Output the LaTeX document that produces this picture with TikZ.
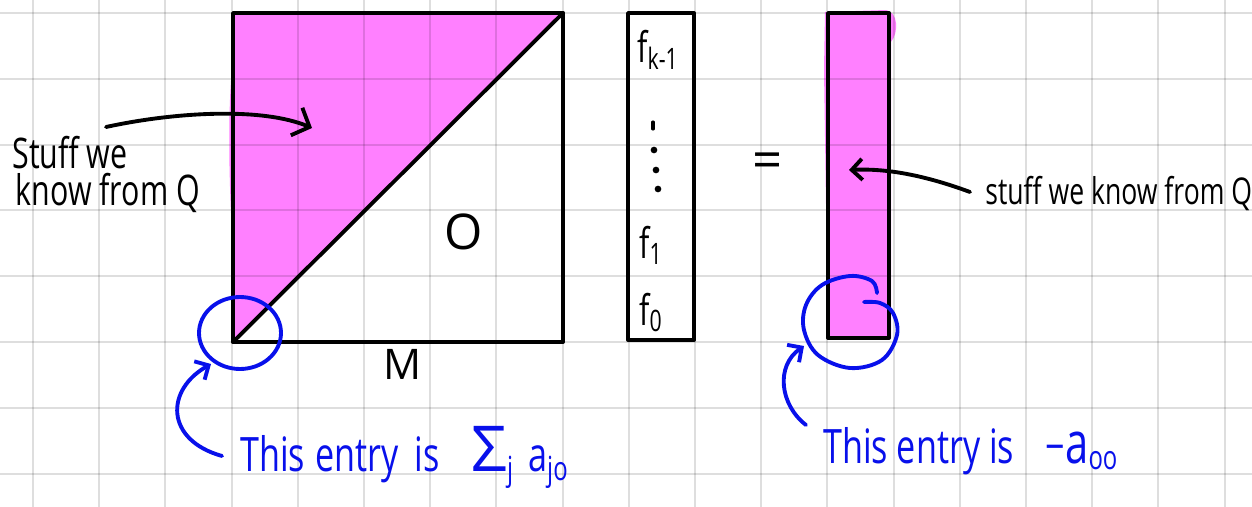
\documentclass[tikz,border=0pt]{standalone}
\usepackage{fontspec}
\newfontfamily\hand[FakeStretch=0.72]{Open Sans}
\newfontfamily\handw{Open Sans}
\usetikzlibrary{arrows.meta}
\definecolor{mag}{RGB}{255,128,255}
\definecolor{pen}{RGB}{8,16,235}
\begin{document}
\begin{tikzpicture}[x=0.02cm,y=-0.02cm,
  ink/.style={line width=2.2pt, line cap=round, line join=round},
  blueink/.style={ink, draw=pen},
  barbL/.style={-{Straight Barb[length=8pt,width=17pt]}},
  barbS/.style={-{Straight Barb[length=6pt,width=12pt]}},
  blk/.style={font=\hand\fontsize{24}{28}\selectfont, inner sep=0pt},
  wide/.style={font=\handw\fontsize{24}{28}\selectfont, inner sep=0pt},
  bluetxt/.style={font=\hand\fontsize{27}{30}\selectfont, text=pen, inner sep=0pt}]
\useasboundingbox (0,0) rectangle (1252,507);
\fill[white] (0,0) rectangle (1252,507);
% magenta fills
\fill[mag] (233,13) -- (563,13) -- (233,342) -- cycle;
\fill[mag] (233,60) .. controls (228,100) and (228,170) .. (233,250) -- cycle;
\fill[mag] (825,12) -- (886,10) .. controls (898,12) and (899,32) .. (891,42) -- (891,338) -- (828,338) -- (824,70) -- cycle;
% grid (multiply-like)
\foreach \i in {0,...,18}
  \draw[black, opacity=0.13, line width=1.1pt] ({33+66.2*\i},0) -- ({33+66.2*\i},507);
\foreach \j in {0,...,7}
  \draw[black, opacity=0.13, line width=1.1pt] (0,{13+65.8*\j}) -- (1252,{13+65.8*\j});
% square matrix
\coordinate (sqTL) at (233,13);
\coordinate (sqBR) at (563,342);
\coordinate (sqBL) at (233,342);
\coordinate (sqTR) at (563,13);
\draw[ink] (sqTL) rectangle (sqBR);
\draw[ink] (sqBL) -- (sqTR);
% vector f
\coordinate (vTL) at (628,13);
\coordinate (vBR) at (694,340);
\draw[ink] (vTL) rectangle (vBR);
% result column
\coordinate (cTL) at (828,13);
\coordinate (cBR) at (889,338);
\draw[ink] (cTL) rectangle (cBR);
% vertical dots
\draw[ink, line width=1.8pt] (653,122) -- (653,129);
\fill (654,150) circle[radius=1.9pt];
\fill (656,170) circle[radius=1.9pt];
\fill (658,189) circle[radius=1.9pt];
% texts
\node[blk, anchor=base west] (fk) at (637,62) {f\textsubscript{k-1}};
\node[blk, anchor=base west] (f1) at (639,258) {f\textsubscript{1}};
\node[blk, anchor=base west] (f0) at (639,325) {f\textsubscript{0}};
\node[wide, font=\handw\fontsize{28}{30}\selectfont] (zero) at (464,232) {O};
\node[wide] (M) at (403,364) {M};
\node[wide, font=\handw\fontsize{30}{30}\selectfont] (eq) at (768,166) {=};
\node[blk, font=\hand\fontsize{24}{21}\selectfont, anchor=north west, align=left] (lt) at (12,136) {Stuff we\\\hspace*{2pt}know from Q};
\node[blk, font=\hand\fontsize{21}{24}\selectfont, anchor=base west] (rt) at (985,204) {stuff we know from Q};
\node[bluetxt, anchor=base west] (bt1) at (240,471) {This\hspace{6pt}entry\hspace{9pt}is\hspace{18pt}{\handw\fontsize{36}{36}\selectfont Σ}\textsubscript{j}\hspace{8pt}a\textsubscript{jo}};
\node[bluetxt, anchor=base west] (bt2) at (823,463) {This entry is\hspace{18pt}−{\fontsize{33}{33}\selectfont a}\textsubscript{oo}};
% black arrows
\coordinate (la0) at (106,127);
\coordinate (la1) at (312,128);
\draw[ink, barbL] (la0) .. controls (175,112) and (262,107) .. (la1);
\coordinate (ra0) at (970,192);
\coordinate (ra1) at (849,170);
\draw[ink, barbS] (ra0) .. controls (932,178) and (892,168) .. (ra1);
% blue circles
\draw[blueink] (240,333) ellipse [x radius=0.82cm, y radius=0.72cm];
\draw[blueink] plot[smooth, tension=0.6] coordinates {(877,293) (872,281) (850,276) (822,285) (806,305) (804,330) (818,355) (850,368) (882,360) (897,335) (893,313) (880,303) (864,302)};
% blue arrows
\coordinate (lb0) at (222,456);
\coordinate (lb1) at (211,364);
\draw[blueink, barbS] (lb0) .. controls (165,440) and (165,390) .. (lb1);
\coordinate (rb0) at (806,425);
\coordinate (rb1) at (804,346);
\draw[blueink, barbS] (rb0) .. controls (780,405) and (775,366) .. (rb1);
\end{tikzpicture}
\end{document}
